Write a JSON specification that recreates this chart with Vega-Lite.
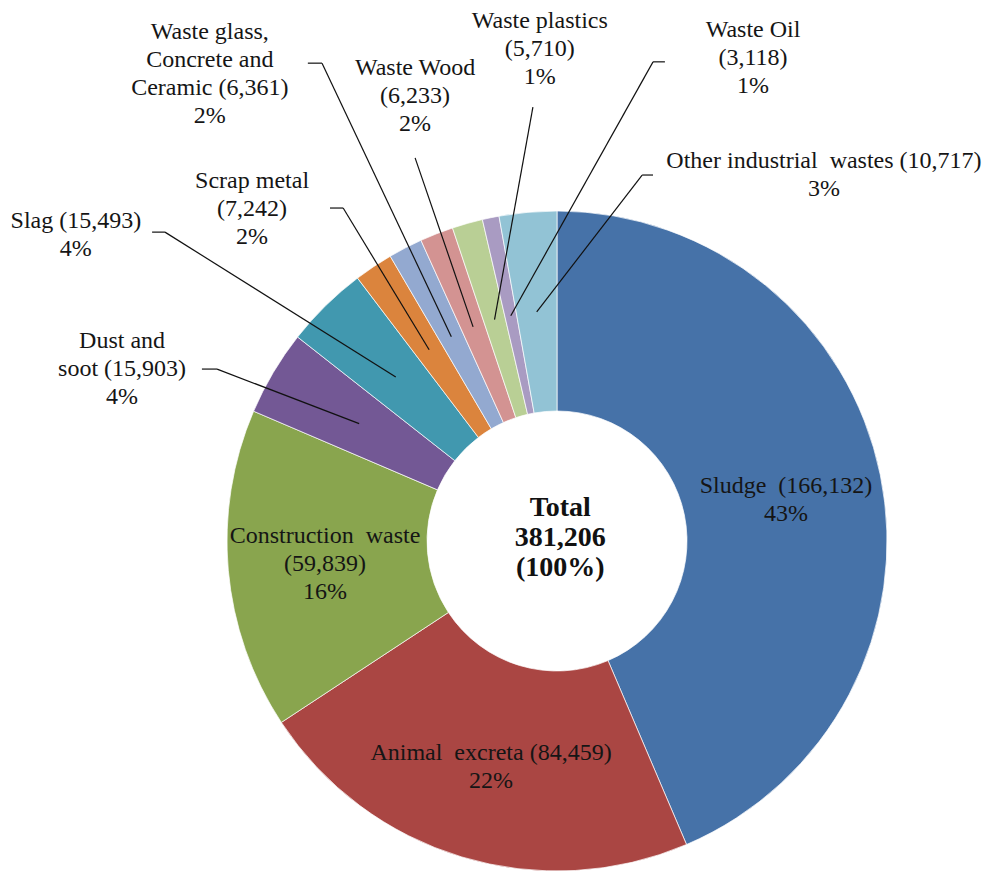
{
  "$schema": "https://vega.github.io/schema/vega-lite/v6.json",
  "width": 660,
  "height": 660,
  "autosize": {"type": "none"},
  "padding": {"left": 227, "top": 211, "right": 102, "bottom": 3},
  "background": "white",
  "config": {"view": {"stroke": null}, "text": {"font": "Liberation Serif"}},
  "datasets": {
    "waste": [
      {"category": "Sludge", "value": 166132, "order": 1, "label": "Sludge\u00a0 (166,132)\n43%", "tx": 0.694, "ty": 0.145},
      {"category": "Animal excreta", "value": 84459, "order": 2, "label": "Animal\u00a0 excreta (84,459)\n22%", "tx": -0.2, "ty": -0.664},
      {"category": "Construction waste", "value": 59839, "order": 3, "label": "Construction\u00a0 waste\n(59,839)\n16%", "tx": -0.703, "ty": -0.006},
      {"category": "Dust and soot", "value": 15903, "order": 4, "label": "Dust and\nsoot (15,903)\n4%", "tx": -1.318, "ty": 0.585, "lx": -1.076, "ly": 0.521, "ex": -1.03},
      {"category": "Slag", "value": 15493, "order": 5, "label": "Slag (15,493)\n4%", "tx": -1.458, "ty": 0.948, "lx": -1.227, "ly": 0.936, "ex": -1.188},
      {"category": "Scrap metal", "value": 7242, "order": 6, "label": "Scrap metal\n(7,242)\n2%", "tx": -0.924, "ty": 1.07, "lx": -0.688, "ly": 1.009, "ex": -0.648},
      {"category": "Waste glass, Concrete and Ceramic", "value": 6361, "order": 7, "label": "Waste glass,\nConcrete and\nCeramic (6,361)\n2%", "tx": -1.052, "ty": 1.521, "lx": -0.755, "ly": 1.448, "ex": -0.712},
      {"category": "Waste Wood", "value": 6233, "order": 8, "label": "Waste Wood\n(6,233)\n2%", "tx": -0.43, "ty": 1.412, "lx": -0.43, "ly": 1.161, "ex": -0.43},
      {"category": "Waste plastics", "value": 5710, "order": 9, "label": "Waste plastics\n(5,710)\n1%", "tx": -0.052, "ty": 1.555, "lx": -0.073, "ly": 1.315, "ex": -0.073},
      {"category": "Waste Oil", "value": 3118, "order": 10, "label": "Waste Oil\n(3,118)\n1%", "tx": 0.594, "ty": 1.527, "lx": 0.327, "ly": 1.452, "ex": 0.291},
      {"category": "Other industrial wastes", "value": 10717, "order": 11, "label": "Other industrial\u00a0 wastes (10,717)\n3%", "tx": 0.809, "ty": 1.13, "lx": 0.291, "ly": 1.109, "ex": 0.258}
    ],
    "center": [{"label": "Total\n381,206\n(100%)", "tx": 0.01, "ty": 0.076}]
  },
  "data": {"name": "waste"},
  "layer": [
    {
      "mark": {"type": "arc", "outerRadius": 330, "innerRadius": 130, "stroke": "#ffffff", "strokeWidth": 0.7},
      "encoding": {
        "theta": {"field": "value", "type": "quantitative", "stack": true},
        "order": {"field": "order", "type": "quantitative"},
        "color": {
          "field": "category", "type": "nominal", "legend": null,
          "scale": {
            "domain": ["Sludge", "Animal excreta", "Construction waste", "Dust and soot", "Slag", "Scrap metal", "Waste glass, Concrete and Ceramic", "Waste Wood", "Waste plastics", "Waste Oil", "Other industrial wastes"],
            "range": ["#4672A8", "#AA4643", "#89A54E", "#735895", "#4198AF", "#DB843D", "#93A9D0", "#D39392", "#B9CF95", "#A99BC2", "#92C3D5"]
          }
        }
      }
    },
    {
      "transform": [
        {"stack": "value", "groupby": [], "sort": [{"field": "order"}], "as": ["v0", "v1"]},
        {"joinaggregate": [{"op": "sum", "field": "value", "as": "total"}]},
        {"calculate": "PI*(datum.v0+datum.v1)/datum.total", "as": "mid"},
        {"calculate": "0.697*sin(datum.mid)", "as": "ax"},
        {"calculate": "0.697*cos(datum.mid)", "as": "ay"},
        {"filter": "isValid(datum.lx)"}
      ],
      "mark": {"type": "rule", "color": "#111111", "strokeWidth": 1.2},
      "encoding": {
        "x": {"field": "ex", "type": "quantitative", "scale": {"domain": [-1, 1], "nice": false, "zero": false}, "axis": null},
        "y": {"field": "ly", "type": "quantitative", "scale": {"domain": [-1, 1], "nice": false, "zero": false}, "axis": null},
        "x2": {"field": "ax"},
        "y2": {"field": "ay"}
      }
    },
    {
      "transform": [{"filter": "isValid(datum.lx)"}],
      "mark": {"type": "rule", "color": "#111111", "strokeWidth": 1.2},
      "encoding": {
        "x": {"field": "lx", "type": "quantitative"},
        "x2": {"field": "ex"},
        "y": {"field": "ly", "type": "quantitative"}
      }
    },
    {
      "mark": {"type": "text", "font": "Liberation Serif", "align": "center", "baseline": "alphabetic", "fontSize": 24, "lineHeight": 28, "lineBreak": "\n", "color": "#151515"},
      "encoding": {
        "x": {"field": "tx", "type": "quantitative"},
        "y": {"field": "ty", "type": "quantitative"},
        "text": {"field": "label"}
      }
    },
    {
      "data": {"name": "center"},
      "mark": {"type": "text", "font": "Liberation Serif", "align": "center", "baseline": "alphabetic", "fontSize": 28, "fontWeight": "bold", "lineHeight": 30, "lineBreak": "\n", "color": "#111111"},
      "encoding": {
        "x": {"field": "tx", "type": "quantitative"},
        "y": {"field": "ty", "type": "quantitative"},
        "text": {"field": "label"}
      }
    }
  ]
}
